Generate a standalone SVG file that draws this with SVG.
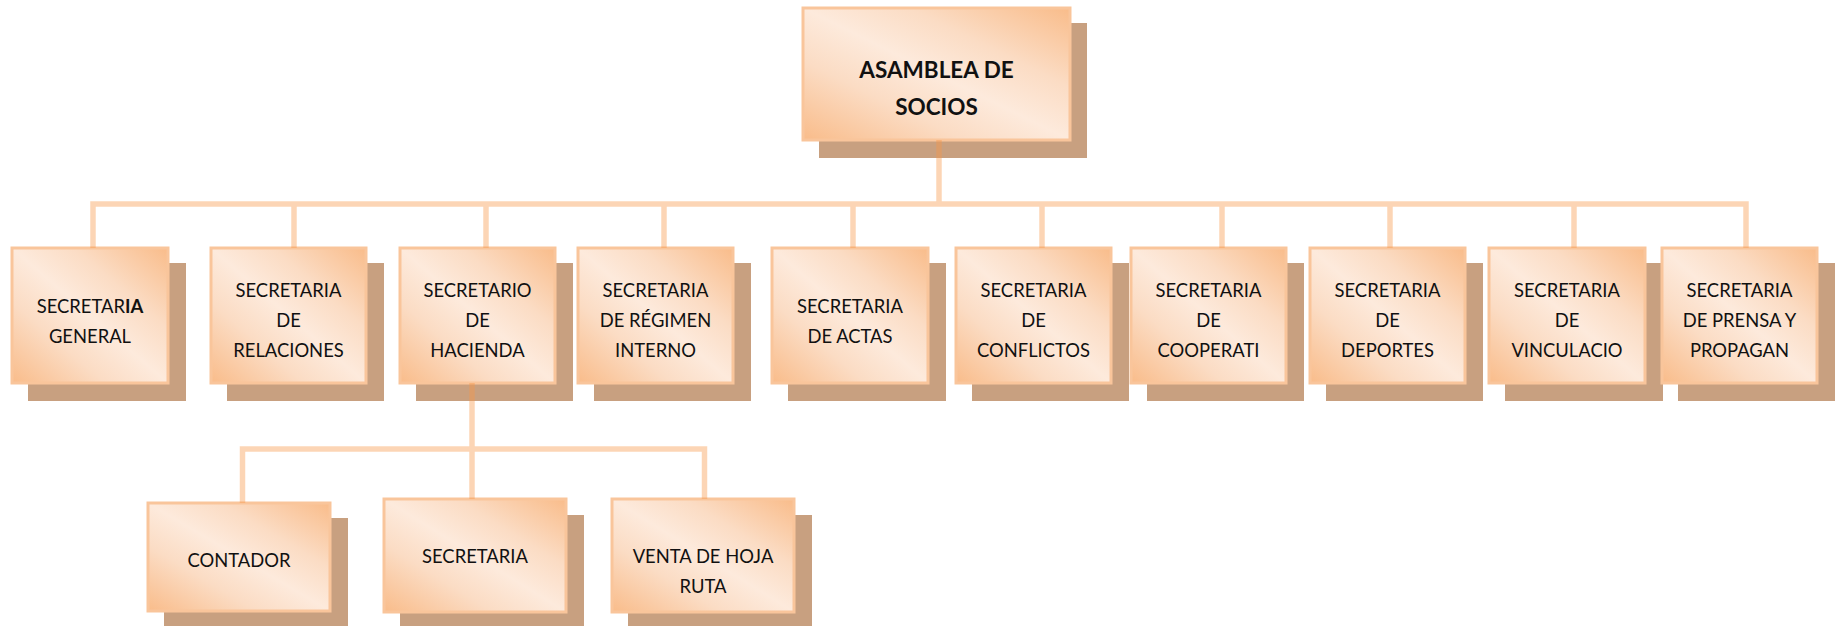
<svg xmlns="http://www.w3.org/2000/svg" width="1841" height="626" viewBox="0 0 1841 626">
<defs>
<linearGradient id="peach" x1="1" y1="0" x2="0" y2="1">
<stop offset="0" stop-color="#F9BC8A"/>
<stop offset="0.3" stop-color="#FBDCC4"/>
<stop offset="0.5" stop-color="#FDEADC"/>
<stop offset="0.7" stop-color="#FBDCC4"/>
<stop offset="1" stop-color="#F9BC8A"/>
</linearGradient>
<style>
.sh{fill:#C8A080;}
.bx{fill:url(#peach);stroke:#F9C59B;stroke-width:3;}
.t{font-family:Lato,"Liberation Sans",sans-serif;font-size:18.4px;fill:#111;text-anchor:middle;}
.tb{font-family:Lato,"Liberation Sans",sans-serif;font-size:22.5px;font-weight:bold;fill:#111;text-anchor:middle;}
</style>
</defs>
<rect width="1841" height="626" fill="#fff"/>

<g id="asamblea">
<rect class="sh" x="819" y="23" width="268" height="135"/>
<rect class="bx" x="803" y="8" width="267" height="132"/>
<text class="tb" x="936.5" y="78">ASAMBLEA DE</text>
<text class="tb" x="936.5" y="115">SOCIOS</text>
</g>

<g id="sec-general">
<rect class="sh" x="28" y="263" width="158" height="138"/>
<rect class="bx" x="12" y="248" width="156" height="135"/>
<text class="t" x="90" y="313">SECRETAR<tspan font-weight="bold">IA</tspan></text>
<text class="t" x="90" y="343">GENERAL</text>
</g>

<g id="sec-relaciones">
<rect class="sh" x="227" y="263" width="157" height="138"/>
<rect class="bx" x="211" y="248" width="155" height="135"/>
<text class="t" x="288.5" y="297">SECRETARIA</text>
<text class="t" x="288.5" y="327">DE</text>
<text class="t" x="288.5" y="357">RELACIONES</text>
</g>

<g id="sec-hacienda">
<rect class="sh" x="416" y="263" width="157" height="138"/>
<rect class="bx" x="400" y="248" width="155" height="135"/>
<text class="t" x="477.5" y="297">SECRETARIO</text>
<text class="t" x="477.5" y="327">DE</text>
<text class="t" x="477.5" y="357">HACIENDA</text>
</g>

<g id="sec-regimen">
<rect class="sh" x="594" y="263" width="157" height="138"/>
<rect class="bx" x="578" y="248" width="155" height="135"/>
<text class="t" x="655.5" y="297">SECRETARIA</text>
<text class="t" x="655.5" y="327">DE RÉGIMEN</text>
<text class="t" x="655.5" y="357">INTERNO</text>
</g>

<g id="sec-actas">
<rect class="sh" x="788" y="263" width="158" height="138"/>
<rect class="bx" x="772" y="248" width="156" height="135"/>
<text class="t" x="850" y="313">SECRETARIA</text>
<text class="t" x="850" y="343">DE ACTAS</text>
</g>

<g id="sec-conflictos">
<rect class="sh" x="972" y="263" width="157" height="138"/>
<rect class="bx" x="956" y="248" width="155" height="135"/>
<text class="t" x="1033.5" y="297">SECRETARIA</text>
<text class="t" x="1033.5" y="327">DE</text>
<text class="t" x="1033.5" y="357">CONFLICTOS</text>
</g>

<g id="sec-cooperati">
<rect class="sh" x="1147" y="263" width="157" height="138"/>
<rect class="bx" x="1131" y="248" width="155" height="135"/>
<text class="t" x="1208.5" y="297">SECRETARIA</text>
<text class="t" x="1208.5" y="327">DE</text>
<text class="t" x="1208.5" y="357">COOPERATI</text>
</g>

<g id="sec-deportes">
<rect class="sh" x="1326" y="263" width="157" height="138"/>
<rect class="bx" x="1310" y="248" width="155" height="135"/>
<text class="t" x="1387.5" y="297">SECRETARIA</text>
<text class="t" x="1387.5" y="327">DE</text>
<text class="t" x="1387.5" y="357">DEPORTES</text>
</g>

<g id="sec-vinculacio">
<rect class="sh" x="1505" y="263" width="158" height="138"/>
<rect class="bx" x="1489" y="248" width="156" height="135"/>
<text class="t" x="1567" y="297">SECRETARIA</text>
<text class="t" x="1567" y="327">DE</text>
<text class="t" x="1567" y="357">VINCULACIO</text>
</g>

<g id="sec-prensa">
<rect class="sh" x="1678" y="263" width="157" height="138"/>
<rect class="bx" x="1662" y="248" width="155" height="135"/>
<text class="t" x="1739.5" y="297">SECRETARIA</text>
<text class="t" x="1739.5" y="327">DE PRENSA Y</text>
<text class="t" x="1739.5" y="357">PROPAGAN</text>
</g>

<g id="contador">
<rect class="sh" x="164" y="518" width="184" height="111"/>
<rect class="bx" x="148" y="503" width="182" height="108"/>
<text class="t" x="239" y="567">CONTADOR</text>
</g>

<g id="secretaria">
<rect class="sh" x="400" y="515" width="184" height="116"/>
<rect class="bx" x="384" y="499" width="182" height="113"/>
<text class="t" x="475" y="563">SECRETARIA</text>
</g>

<g id="venta-hoja-ruta">
<rect class="sh" x="628" y="515" width="184" height="116"/>
<rect class="bx" x="612" y="499" width="182" height="113"/>
<text class="t" x="703" y="563">VENTA DE HOJA</text>
<text class="t" x="703" y="593">RUTA</text>
</g>

<g id="connectors" opacity="0.4" stroke="#F79646" stroke-width="5.5" fill="none">
<path d="M939 140V204M93 248V204H1746V248M294 204V248M486 204V248M664 204V248M853 204V248M1042 204V248M1222 204V248M1390 204V248M1574 204V248M472 383V499M242.5 503V449H704.5V499"/>
</g>
</svg>
